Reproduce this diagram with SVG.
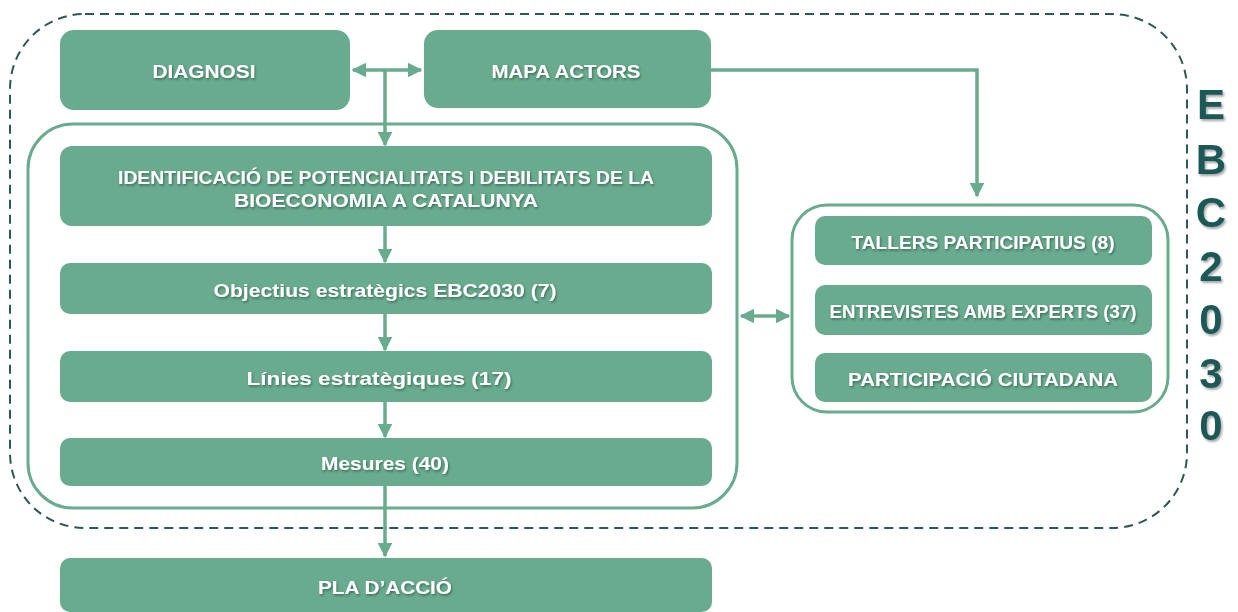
<svg xmlns="http://www.w3.org/2000/svg" width="1238" height="612" viewBox="0 0 1238 612">
<defs>
<style>
.box{fill:#69ab8e;}
.grp{fill:none;stroke:#69ab8e;stroke-width:3;}
.lbl{font-family:"Liberation Sans",Arial,sans-serif;font-weight:bold;font-size:19px;fill:#ffffff;text-anchor:middle;filter:url(#sh);}
.con{fill:none;stroke:#69ab8e;stroke-width:3.5;}
.ebc{font-family:"Liberation Sans",Arial,sans-serif;font-weight:bold;font-size:42px;fill:#1e5957;text-anchor:middle;filter:url(#sh2);}
</style>
<filter id="sh" x="-10%" y="-30%" width="120%" height="160%">
<feDropShadow dx="1" dy="1.5" stdDeviation="0.8" flood-color="#1f3f33" flood-opacity="0.6"/>
</filter>
<filter id="sh2" x="-20%" y="-20%" width="140%" height="140%">
<feDropShadow dx="1.5" dy="2" stdDeviation="1.2" flood-color="#000" flood-opacity="0.35"/>
</filter>
<marker id="ah" viewBox="0 0 10 10" refX="9" refY="5" markerWidth="4.2" markerHeight="4.2" orient="auto-start-reverse" markerUnits="strokeWidth">
<path d="M0,0 L10,5 L0,10 Z" fill="#69ab8e"/>
</marker>
</defs>
<rect width="1238" height="612" fill="#ffffff"/>

<g id="frame">
<rect x="10" y="14" width="1177" height="514" rx="75" ry="75" fill="none" stroke="#2d5856" stroke-width="2" stroke-dasharray="9,6"/>
</g>

<g id="ebc2030">
<text class="ebc" x="1211" y="119">E</text>
<text class="ebc" x="1211" y="174">B</text>
<text class="ebc" x="1211" y="227">C</text>
<text class="ebc" x="1211" y="281">2</text>
<text class="ebc" x="1211" y="334">0</text>
<text class="ebc" x="1211" y="388">3</text>
<text class="ebc" x="1211" y="440">0</text>
</g>

<g id="left-group">
<rect class="grp" x="28" y="124" width="709" height="384" rx="45" ry="45"/>
</g>
<g id="right-group">
<rect class="grp" x="792" y="205" width="376" height="207" rx="35" ry="35"/>
</g>

<g id="connectors">
<path class="con" d="M353,70 L421,70" marker-start="url(#ah)" marker-end="url(#ah)"/>
<path class="con" d="M385,70 L385,145" marker-end="url(#ah)"/>
<path class="con" d="M711,70 L977,70 L977,196" marker-end="url(#ah)"/>
<path class="con" d="M385,226 L385,262" marker-end="url(#ah)"/>
<path class="con" d="M385,314 L385,350" marker-end="url(#ah)"/>
<path class="con" d="M385,402 L385,437" marker-end="url(#ah)"/>
<path class="con" d="M385,486 L385,556" marker-end="url(#ah)"/>
<path class="con" d="M741,316 L789,316" marker-start="url(#ah)" marker-end="url(#ah)"/>
</g>

<g id="diagnosi">
<rect class="box" x="60" y="30" width="290" height="80" rx="14"/>
<text class="lbl" x="204" y="78" textLength="103" lengthAdjust="spacingAndGlyphs">DIAGNOSI</text>
</g>
<g id="mapa-actors">
<rect class="box" x="424" y="30" width="287" height="78" rx="14"/>
<text class="lbl" x="566" y="78" textLength="149" lengthAdjust="spacingAndGlyphs">MAPA ACTORS</text>
</g>
<g id="identificacio">
<rect class="box" x="60" y="146" width="652" height="80" rx="12"/>
<text class="lbl" x="386" y="184" textLength="536" lengthAdjust="spacingAndGlyphs">IDENTIFICACIÓ DE POTENCIALITATS I DEBILITATS DE LA</text>
<text class="lbl" x="386" y="207" textLength="304" lengthAdjust="spacingAndGlyphs">BIOECONOMIA A CATALUNYA</text>
</g>
<g id="objectius">
<rect class="box" x="60" y="263" width="652" height="51" rx="10"/>
<text class="lbl" x="385" y="297" textLength="343" lengthAdjust="spacingAndGlyphs">Objectius estratègics EBC2030 (7)</text>
</g>
<g id="linies">
<rect class="box" x="60" y="351" width="652" height="51" rx="10"/>
<text class="lbl" x="379" y="385" textLength="265" lengthAdjust="spacingAndGlyphs">Línies estratègiques  (17)</text>
</g>
<g id="mesures">
<rect class="box" x="60" y="438" width="652" height="48" rx="10"/>
<text class="lbl" x="385" y="470" textLength="128" lengthAdjust="spacingAndGlyphs">Mesures (40)</text>
</g>
<g id="pla-accio">
<rect class="box" x="60" y="558" width="652" height="54" rx="10"/>
<text class="lbl" x="385" y="594" textLength="134" lengthAdjust="spacingAndGlyphs">PLA D’ACCIÓ</text>
</g>
<g id="tallers">
<rect class="box" x="815" y="216" width="337" height="49" rx="10"/>
<text class="lbl" x="983" y="249" textLength="263" lengthAdjust="spacingAndGlyphs">TALLERS PARTICIPATIUS (8)</text>
</g>
<g id="entrevistes">
<rect class="box" x="815" y="285" width="337" height="50" rx="10"/>
<text class="lbl" x="983" y="318" textLength="307" lengthAdjust="spacingAndGlyphs">ENTREVISTES AMB EXPERTS (37)</text>
</g>
<g id="participacio">
<rect class="box" x="815" y="353" width="337" height="49" rx="10"/>
<text class="lbl" x="983" y="386" textLength="270" lengthAdjust="spacingAndGlyphs">PARTICIPACIÓ CIUTADANA</text>
</g>
</svg>
